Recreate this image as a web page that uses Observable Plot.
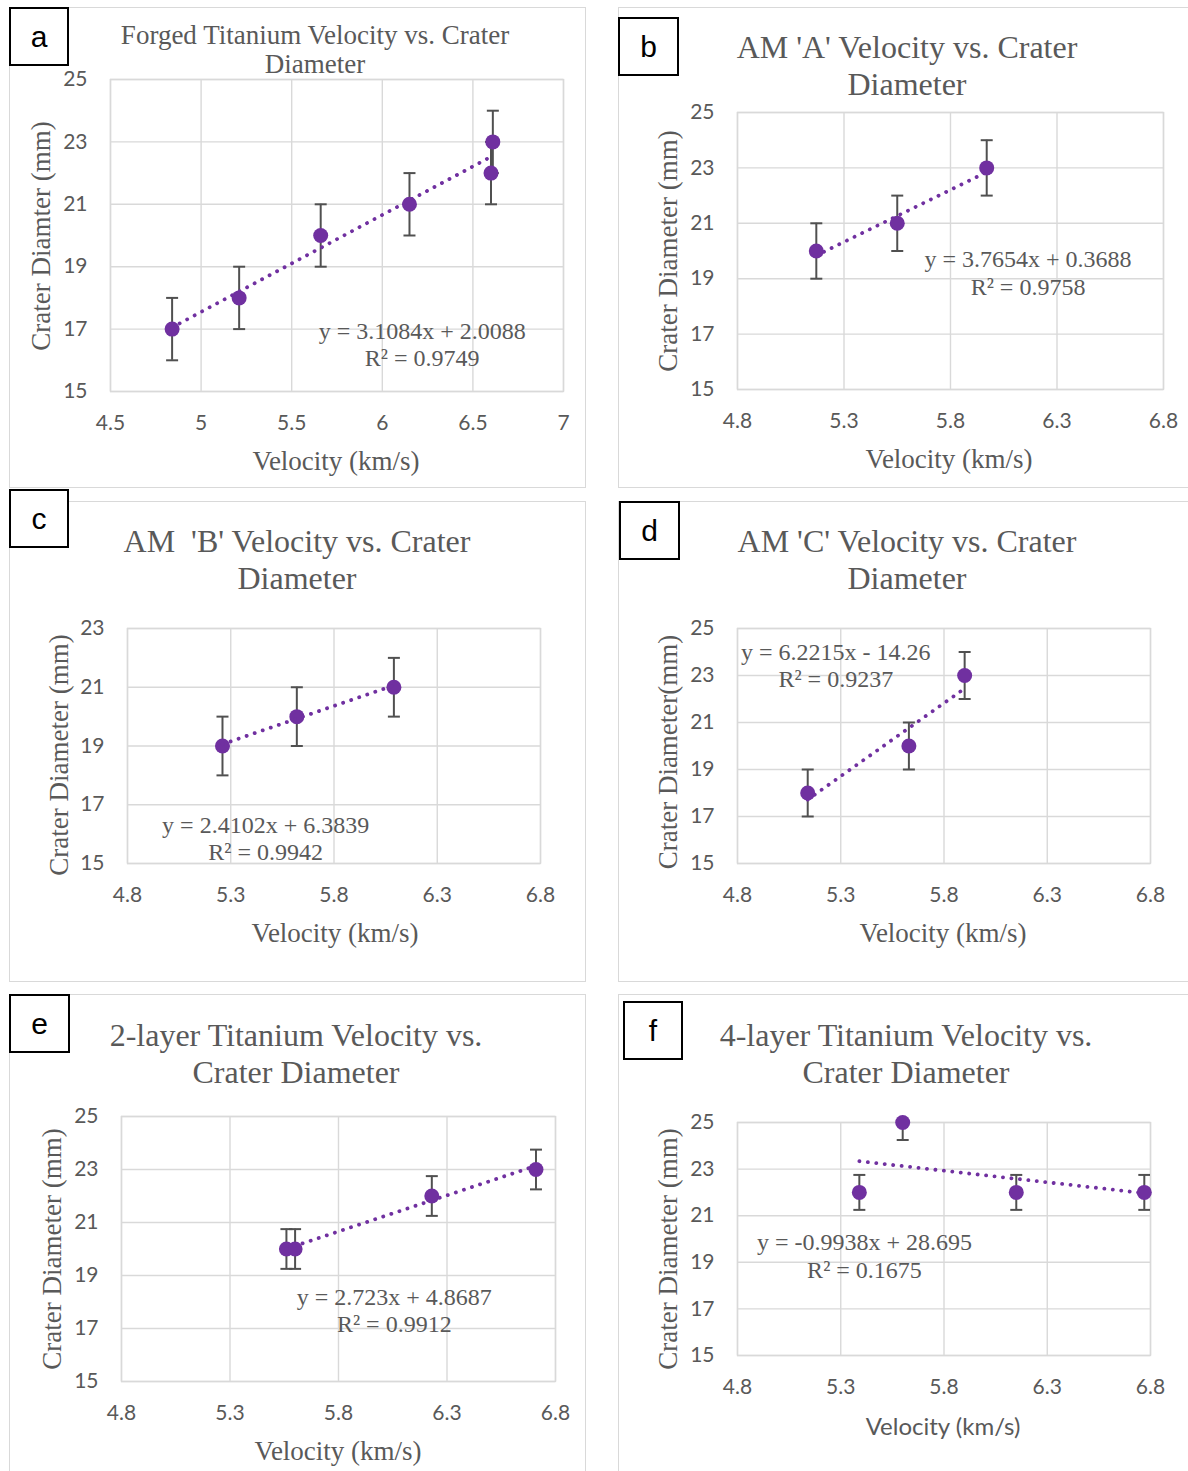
<!DOCTYPE html>
<html><head><meta charset="utf-8">
<script src="https://cdn.jsdelivr.net/npm/d3@7"></script>
<script src="https://cdn.jsdelivr.net/npm/@observablehq/plot@0.6"></script>
<style>
body{margin:0;background:#fff;}
#page{position:relative;width:1188px;height:1471px;overflow:hidden;background:#fff;}
.panel{position:absolute;border:1px solid #d9d9d9;box-sizing:border-box;}
.tag{position:absolute;border:2px solid #000;background:#fff;box-sizing:border-box;display:flex;align-items:center;justify-content:center;font-family:"Liberation Sans",Arial,sans-serif;font-size:30px;color:#000;line-height:1;}
.txt{position:absolute;white-space:pre;color:#595959;font-family:"Liberation Serif","Times New Roman",serif;transform:translate(-50%,-50%);text-align:center;}
</style></head><body><div id="page"></div><script>
// ---------- data ----------
const panelLetters = ["a", "b", "c", "d", "e", "f"];
const titleLines = [
  ["Forged Titanium Velocity vs. Crater", "Diameter"],
  ["AM 'A' Velocity vs. Crater", "Diameter"],
  ["AM  'B' Velocity vs. Crater", "Diameter"],
  ["AM 'C' Velocity vs. Crater", "Diameter"],
  ["2-layer Titanium Velocity vs.", "Crater Diameter"],
  ["4-layer Titanium Velocity vs.", "Crater Diameter"]
];
const yAxisTitles = ["Crater Diamter (mm)", "Crater Diameter (mm)", "Crater Diameter (mm)", "Crater Diameter(mm)", "Crater Diameter (mm)", "Crater Diameter (mm)"];
const xAxisTitle = "Velocity (km/s)";

const velForged = [4.84, 5.21, 5.66, 6.15, 6.60, 6.61];
const diaForged = [17, 18, 20, 21, 22, 23];
const velAMA = [5.17, 5.55, 5.97];
const diaAMA = [20, 21, 23];
const velAMB = [5.26, 5.62, 6.09];
const diaAMB = [19, 20, 21];
const velAMC = [5.14, 5.63, 5.90];
const diaAMC = [18, 20, 23];
const vel2Layer = [5.56, 5.60, 6.23, 6.71];
const dia2Layer = [20, 20, 22, 23];
const vel4Layer = [5.39, 5.60, 6.15, 6.77];
const dia4Layer = [22, 25, 22, 22];
const errorBars = [1, 1, 1, 1, 0.75, 0.75];

const trendSlopes = [3.1084, 3.7654, 2.4102, 6.2215, 2.723, -0.9938];
const trendIntercepts = [2.0088, 0.3688, 6.3839, -14.26, 4.8687, 28.695];
const equationLabels = ["y = 3.1084x + 2.0088", "y = 3.7654x + 0.3688", "y = 2.4102x + 6.3839", "y = 6.2215x - 14.26", "y = 2.723x + 4.8687", "y = -0.9938x + 28.695"];
const r2Labels = ["R² = 0.9749", "R² = 0.9758", "R² = 0.9942", "R² = 0.9237", "R² = 0.9912", "R² = 0.1675"];

const xTicksForged = [4.5, 5, 5.5, 6, 6.5, 7];
const xTicksOther = [4.8, 5.3, 5.8, 6.3, 6.8];
const yTicks25 = [15, 17, 19, 21, 23, 25];
const yTicks23 = [15, 17, 19, 21, 23];

const velocities = [velForged, velAMA, velAMB, velAMC, vel2Layer, vel4Layer];
const diameters = [diaForged, diaAMA, diaAMB, diaAMC, dia2Layer, dia4Layer];

// ---------- layout ----------
const layout = [
  {border:[9,7,577,481], tag:[9,7,60,59], plot:[110,79,563,391], xdom:[4.5,7], ydom:[15,25], xt:xTicksForged, yt:yTicks25,
   title:[315,49.5,27,29], ylab:[41,236], xlab:[336,461], eq:[6.22,16.53]},
  {border:[618,7,580,481], tag:[618,17,61,59], plot:[737,112,1163,389], xdom:[4.8,6.8], ydom:[15,25], xt:xTicksOther, yt:yTicks25,
   title:[907,65.5,32,37], ylab:[668,251], xlab:[949,459], eq:[6.164,19.23]},
  {border:[9,501,577,481], tag:[9,489,60,59], plot:[127,628,540,863], xdom:[4.8,6.8], ydom:[15,23], xt:xTicksOther, yt:yTicks23,
   title:[297,559.5,32,37], ylab:[59,755], xlab:[335,933], eq:[5.469,15.86]},
  {border:[618,501,580,481], tag:[619,501,61,59], plot:[737,628,1150,863], xdom:[4.8,6.8], ydom:[15,25], xt:xTicksOther, yt:yTicks25,
   title:[907,559.5,32,37], ylab:[668,751.5], xlab:[943,933], eq:[5.276,23.45]},
  {border:[9,994,577,490], tag:[9,994,61,59], plot:[121,1116,555,1381], xdom:[4.8,6.8], ydom:[15,25], xt:xTicksOther, yt:yTicks25,
   title:[296,1053.5,32,37], ylab:[52,1248.5], xlab:[338,1451], eq:[6.057,17.70]},
  {border:[618,994,580,490], tag:[623,1001,60,59], plot:[737,1122,1150,1355], xdom:[4.8,6.8], ydom:[15,25], xt:xTicksOther, yt:yTicks25,
   title:[906,1053.5,32,37], ylab:[668,1248.5], xlab:[943,1426], eq:[5.415,19.30], sansX:true}
];

const page = document.getElementById("page");
function addDiv(cls, css, text) {
  const d = document.createElement("div");
  d.className = cls;
  Object.assign(d.style, css);
  if (text != null) d.textContent = text;
  page.appendChild(d);
  return d;
}

const capSymbol = {draw(ctx, size) { const r = Math.sqrt(size / Math.PI); ctx.moveTo(-r, 0); ctx.lineTo(r, 0); }};
const purple = "#7030a0", grid = "#d9d9d9", barColor = "#505050";

layout.forEach((L, i) => {
  const [bx, by, bw, bh] = L.border;
  addDiv("panel", {left: bx + "px", top: by + "px", width: bw + "px", height: bh + "px"});
});

layout.forEach((L, i) => {
  const [pl, pt, pr, pb] = L.plot;
  const ml = 70, mt = 30, mr = 30, mb = 55;
  const err = errorBars[i];
  const pts = velocities[i].map((v, j) => ({v, d: diameters[i][j], lo: diameters[i][j] - err, hi: diameters[i][j] + err}));
  const ext = d3.extent(velocities[i]);
  const trend = ext.map(v => ({v, d: trendSlopes[i] * v + trendIntercepts[i]}));
  const svg = Plot.plot({
    width: (pr - pl) + ml + mr,
    height: (pb - pt) + mt + mb,
    marginLeft: ml, marginRight: mr, marginTop: mt, marginBottom: mb,
    x: {domain: L.xdom},
    y: {domain: L.ydom},
    style: {fontFamily: "Lato, sans-serif", fontSize: "21px", color: "#595959", background: "transparent", overflow: "visible"},
    marks: [
      Plot.gridX({ticks: L.xt, stroke: grid, strokeOpacity: 1, strokeWidth: 1.4}),
      Plot.gridY({ticks: L.yt, stroke: grid, strokeOpacity: 1, strokeWidth: 1.4}),
      Plot.frame({stroke: grid, strokeWidth: 1.4}),
      Plot.axisX({ticks: L.xt, tickSize: 0, tickPadding: 24, label: null, tickFormat: d => String(d)}),
      Plot.axisY({ticks: L.yt, tickSize: 0, tickPadding: 23, label: null, tickFormat: d => String(d)}),
      Plot.ruleX(pts, {x: "v", y1: "lo", y2: "hi", stroke: barColor, strokeWidth: 2, clip: true}),
      Plot.dot(pts, {x: "v", y: "lo", symbol: capSymbol, r: 6, stroke: barColor, strokeWidth: 2, fill: "none", clip: true}),
      Plot.dot(pts, {x: "v", y: "hi", symbol: capSymbol, r: 6, stroke: barColor, strokeWidth: 2, fill: "none", clip: true}),
      Plot.dot(pts, {x: "v", y: "d", r: 7.5, fill: purple, stroke: "none"}),
      Plot.line(trend, {x: "v", y: "d", stroke: purple, strokeWidth: 3.8, strokeDasharray: "0.1 8.4", strokeLinecap: "round"}),
      Plot.text([equationLabels[i] + "\n" + r2Labels[i]], {x: () => L.eq[0], y: () => L.eq[1], text: d => d,
        fontFamily: "Liberation Serif, Times New Roman, serif", fontSize: 24, fill: "#595959", lineHeight: 1.13, lineAnchor: "middle", textAnchor: "middle"})
    ]
  });
  svg.style.position = "absolute";
  svg.style.left = (pl - ml) + "px";
  svg.style.top = (pt - mt) + "px";
  svg.style.maxWidth = "none";
  page.appendChild(svg);
});

layout.forEach((L, i) => {
  const [tx, ty, tw, th] = L.tag;
  addDiv("tag", {left: tx + "px", top: ty + "px", width: tw + "px", height: th + "px"}, panelLetters[i]);
  const [cx, cy, fs, lh] = L.title;
  addDiv("txt", {left: cx + "px", top: cy + "px", fontSize: fs + "px", lineHeight: lh + "px"}, titleLines[i].join("\n"));
  addDiv("txt", {left: L.ylab[0] + "px", top: L.ylab[1] + "px", fontSize: "27px", lineHeight: "1", transform: "translate(-50%,-50%) rotate(-90deg)"}, yAxisTitles[i]);
  const xl = addDiv("txt", {left: L.xlab[0] + "px", top: L.xlab[1] + "px", fontSize: "27px", lineHeight: "1"}, xAxisTitle);
  if (L.sansX) { xl.style.fontFamily = "Lato, sans-serif"; xl.style.fontSize = "24px"; }
});
</script></body></html>
